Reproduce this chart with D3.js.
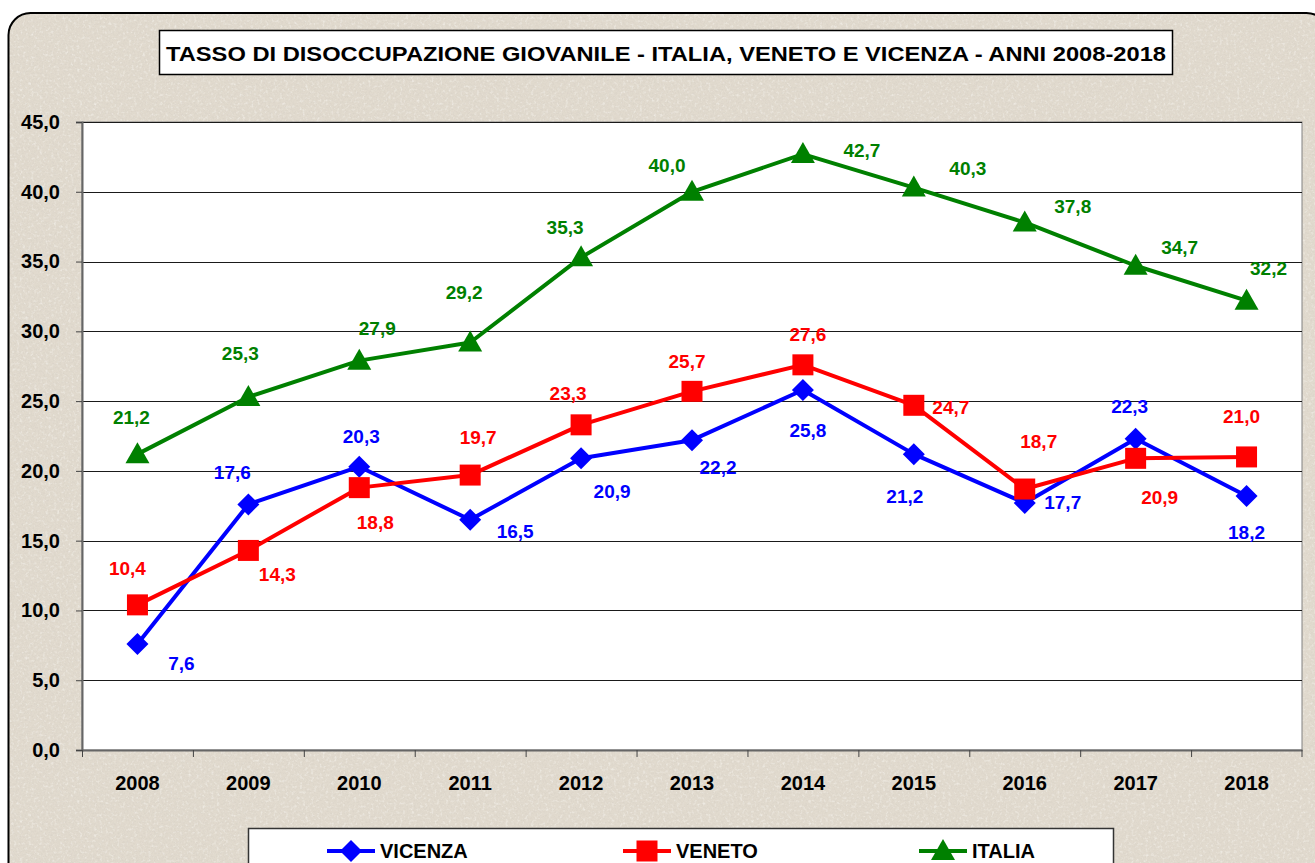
<!DOCTYPE html>
<html>
<head>
<meta charset="utf-8">
<script src="https://cdn.jsdelivr.net/npm/d3@7/dist/d3.min.js"></script>
<style>
  html, body { margin: 0; padding: 0; background: #ffffff; }
  svg { display: block; font-family: "Liberation Sans", Arial, sans-serif; }
</style>
</head>
<body>
<svg id="chart" width="1315" height="863"></svg>
<script>
// ---- data ----
const years = ["2008","2009","2010","2011","2012","2013","2014","2015","2016","2017","2018"];
const vicenza = [7.6, 17.6, 20.3, 16.5, 20.9, 22.2, 25.8, 21.2, 17.7, 22.3, 18.2];
const veneto  = [10.4, 14.3, 18.8, 19.7, 23.3, 25.7, 27.6, 24.7, 18.7, 20.9, 21.0];
const italia  = [21.2, 25.3, 27.9, 29.2, 35.3, 40.0, 42.7, 40.3, 37.8, 34.7, 32.2];
const yTicks  = [0, 5, 10, 15, 20, 25, 30, 35, 40, 45];
const seriesNames = ["VICENZA", "VENETO", "ITALIA"];
const titleText = "TASSO DI DISOCCUPAZIONE GIOVANILE - ITALIA, VENETO E VICENZA - ANNI 2008-2018";

// label placement (offsets of label centre from its point, in px)
const offVicenza = [[44,20],[-16,-32],[2,-30],[45,12],[31,33],[26,27],[5,41],[-9,42],[38,0],[-6,-32],[0,36]];
const offVeneto  = [[-10,-36],[29,24],[16,35],[8,-38],[-13,-31],[-5,-30],[5,-30],[37,2],[14,-48],[24,39],[-5,-40]];
const offItalia  = [[-6,-37],[-8,-43],[18,-32],[-6,-50],[-16,-30],[-25,-26],[59,-4],[54,-19],[48,-16],[44,-18],[22,-32]];

const series = [
  {name: seriesNames[0], values: vicenza, color: "#0000FF", marker: "diamond", offs: offVicenza},
  {name: seriesNames[1], values: veneto,  color: "#FF0000", marker: "square",  offs: offVeneto},
  {name: seriesNames[2], values: italia,  color: "#008000", marker: "triangle", offs: offItalia}
];

const svg = d3.select("#chart");
const defs = svg.append("defs");

// paper texture
const f = defs.append("filter").attr("id", "paper").attr("x", 0).attr("y", 0).attr("width", "100%").attr("height", "100%");
f.append("feTurbulence").attr("type", "fractalNoise").attr("baseFrequency", "0.55").attr("numOctaves", 3).attr("seed", 7).attr("result", "n");
f.append("feColorMatrix").attr("in", "n").attr("type", "matrix")
  .attr("values", "0 0 0 0 0.62  0 0 0 0 0.58  0 0 0 0 0.52  -2.2 0 0 0 1.25");
const f2 = defs.append("filter").attr("id", "paper2").attr("x", 0).attr("y", 0).attr("width", "100%").attr("height", "100%");
f2.append("feTurbulence").attr("type", "fractalNoise").attr("baseFrequency", "0.35").attr("numOctaves", 2).attr("seed", 19).attr("result", "n");
f2.append("feColorMatrix").attr("in", "n").attr("type", "matrix")
  .attr("values", "0 0 0 0 1  0 0 0 0 1  0 0 0 0 0.98  2.4 0 0 0 -1.25");

const clip = defs.append("clipPath").attr("id", "frameClip");
clip.append("rect").attr("x", 8.5).attr("y", 13).attr("width", 1320).attr("height", 900).attr("rx", 22).attr("ry", 22);

const bg = svg.append("g").attr("clip-path", "url(#frameClip)");
bg.append("rect").attr("x", 0).attr("y", 0).attr("width", 1315).attr("height", 863).attr("fill", "#e1dace");
bg.append("rect").attr("x", 0).attr("y", 0).attr("width", 1315).attr("height", 863).attr("filter", "url(#paper)").attr("opacity", 0.35);
bg.append("rect").attr("x", 0).attr("y", 0).attr("width", 1315).attr("height", 863).attr("filter", "url(#paper2)").attr("opacity", 0.5);
svg.append("rect").attr("x", 8.5).attr("y", 13).attr("width", 1320).attr("height", 900).attr("rx", 22).attr("ry", 22)
  .attr("fill", "none").attr("stroke", "#000").attr("stroke-width", 2);

// ---- plot area ----
const plot = {left: 82, right: 1302, top: 122, bottom: 750};
const x = d3.scaleBand().domain(years).range([plot.left, plot.right]).padding(0);
const y = d3.scaleLinear().domain([0, 45]).range([plot.bottom, plot.top]);

svg.append("rect").attr("x", plot.left).attr("y", plot.top)
  .attr("width", plot.right - plot.left).attr("height", plot.bottom - plot.top)
  .attr("fill", "#ffffff").attr("stroke", "#808080").attr("stroke-width", 1);

// gridlines
svg.append("g").selectAll("line").data(yTicks.filter(d => d > 0)).join("line")
  .attr("x1", plot.left).attr("x2", plot.right)
  .attr("y1", d => Math.round(y(d)) + 0.5).attr("y2", d => Math.round(y(d)) + 0.5)
  .attr("stroke", "#1a1a1a").attr("stroke-width", 1);

// y axis
const fmt = d => d3.format(".1f")(d).replace(".", ",");
const yAxis = svg.append("g").attr("transform", `translate(${plot.left},0)`)
  .call(d3.axisLeft(y).tickValues(yTicks).tickSize(6).tickPadding(16).tickFormat(fmt));
yAxis.select(".domain").attr("stroke", "#666").attr("stroke-width", 2);
yAxis.selectAll(".tick line").attr("stroke", "#444");
yAxis.selectAll("text").attr("font-size", 20).attr("font-weight", "bold").attr("fill", "#000")
  .attr("font-family", "Liberation Sans, Arial, sans-serif");

// x axis
const xAxis = svg.append("g").attr("transform", `translate(0,${plot.bottom})`)
  .call(d3.axisBottom(x).tickSize(0).tickPadding(26));
xAxis.select(".domain").attr("stroke", "#666").attr("stroke-width", 2);
xAxis.selectAll("text").attr("font-size", 20).attr("font-weight", "bold").attr("fill", "#000")
  .attr("font-family", "Liberation Sans, Arial, sans-serif");
// category boundary ticks
svg.append("g").selectAll("line").data(years).join("line")
  .attr("x1", d => x(d) + 0.5).attr("x2", d => x(d) + 0.5)
  .attr("y1", plot.bottom).attr("y2", plot.bottom + 7)
  .attr("stroke", "#444").attr("stroke-width", 1);
svg.append("line").attr("x1", plot.right).attr("x2", plot.right).attr("y1", plot.bottom).attr("y2", plot.bottom + 7)
  .attr("stroke", "#444");

// marker shapes
function markerPath(type) {
  if (type === "diamond") return "M0,-11L11,0L0,11L-11,0Z";
  if (type === "square") return "M-10.5,-10.5H10.5V10.5H-10.5Z";
  return "M0,-12L12,9H-12Z";
}

const cx = i => x(years[i]) + x.bandwidth() / 2;
const line = d3.line().x((d, i) => cx(i)).y(d => y(d));

series.forEach(s => {
  svg.append("path").datum(s.values).attr("d", line)
    .attr("fill", "none").attr("stroke", s.color).attr("stroke-width", 4).attr("stroke-linejoin", "round");
});
series.forEach(s => {
  svg.append("g").selectAll("path").data(s.values).join("path")
    .attr("transform", (d, i) => `translate(${cx(i)},${y(d)})`)
    .attr("d", markerPath(s.marker)).attr("fill", s.color);
});
series.forEach(s => {
  svg.append("g").selectAll("text").data(s.values).join("text")
    .attr("x", (d, i) => cx(i) + s.offs[i][0])
    .attr("y", (d, i) => y(d) + s.offs[i][1])
    .attr("text-anchor", "middle").attr("dominant-baseline", "central")
    .attr("font-size", 19).attr("font-weight", "bold").attr("fill", s.color)
    .text(d => fmt(d));
});

// ---- title ----
svg.append("rect").attr("x", 159.5).attr("y", 30.5).attr("width", 1013).attr("height", 44)
  .attr("fill", "#fff").attr("stroke", "#000").attr("stroke-width", 1.5);
svg.append("text").attr("x", 666).attr("y", 53).attr("text-anchor", "middle").attr("dominant-baseline", "central")
  .attr("font-size", 21).attr("font-weight", "bold").attr("fill", "#000")
  .attr("textLength", 1000).attr("lengthAdjust", "spacingAndGlyphs")
  .text(titleText);

// ---- legend ----
svg.append("rect").attr("x", 248.5).attr("y", 828.5).attr("width", 865).attr("height", 60)
  .attr("fill", "#fff").attr("stroke", "#333").attr("stroke-width", 1.5);
const legX = [327, 623, 919];
series.forEach((s, i) => {
  const g = svg.append("g").attr("transform", `translate(${legX[i]},851)`);
  g.append("line").attr("x1", 0).attr("x2", 48).attr("y1", 0).attr("y2", 0).attr("stroke", s.color).attr("stroke-width", 4);
  g.append("path").attr("transform", "translate(24,0)").attr("d", markerPath(s.marker)).attr("fill", s.color);
  g.append("text").attr("x", 53).attr("y", 0).attr("dominant-baseline", "central")
    .attr("font-size", 20).attr("font-weight", "bold").attr("fill", "#000").text(s.name);
});
</script>
</body>
</html>
